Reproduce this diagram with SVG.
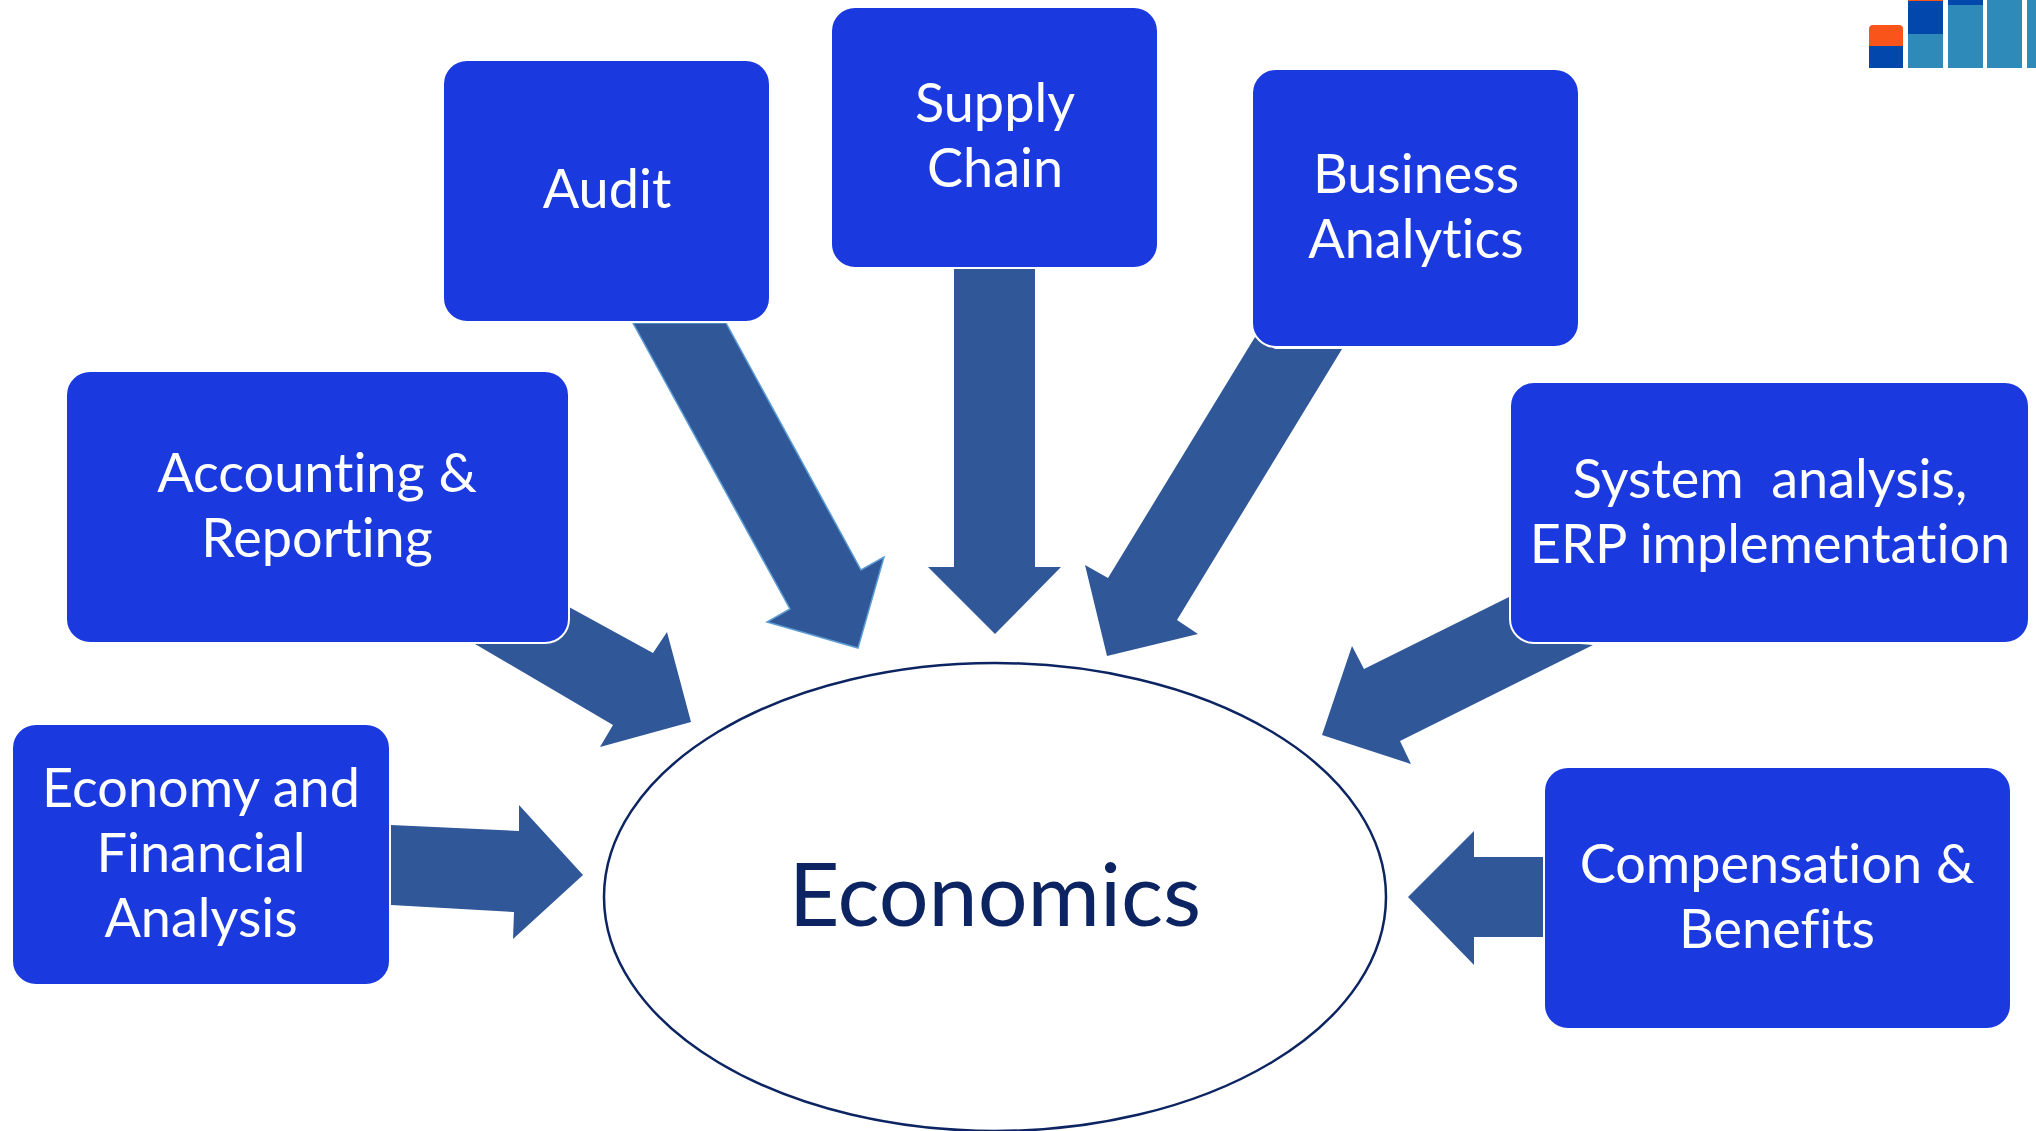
<svg xmlns="http://www.w3.org/2000/svg" width="2036" height="1131" viewBox="0 0 2036 1131">
<style>
.n{fill:#1a3adf;stroke:#fff;stroke-width:2}
.t{fill:#fff;font-family:"Lato","Liberation Sans",sans-serif;font-size:54px;text-anchor:middle;font-variant-ligatures:none}
.a{fill:#305797}
.o{fill:#f9541a}.b{fill:#0247ab}.c{fill:#2e8ab8}
</style>
<rect width="2036" height="1131" fill="#fff"/>
<g id="logo">
<path class="o" d="M1869 46V29q0-4 4-4h26q4 0 4 4V46z"/><rect class="b" x="1869" y="46" width="34" height="22"/>
<rect class="o" x="1908" y="0" width="35" height="1"/><rect class="b" x="1908" y="1" width="35" height="33"/><rect class="c" x="1908" y="34" width="35" height="34"/>
<rect class="b" x="1948" y="0" width="35" height="5"/><rect class="c" x="1948" y="5" width="35" height="63"/>
<rect class="c" x="1987" y="0" width="35" height="68"/>
<rect class="c" x="2027" y="0" width="9" height="68"/>
</g>
<g id="connectors">
<polygon class="a" points="391,825 519,831 519,805 583,875 513,939 514,912 391,905"/>
<polygon class="a" points="569,607 653,653 667,632 691,722 600,747 613,725 475,644"/>
<polygon class="a" points="633,323 726,323 861,570 884,557 858,648 767,622 790,609" stroke="#5b9bd5" stroke-width="1.5"/>
<polygon class="a" points="954,269 1035,269 1035,567 1061,567 995,634 928,567 954,567"/>
<polygon class="a" points="1255,337 1275,349 1342,349 1177,620 1198,634 1107,656 1085,565 1108,578"/>
<polygon class="a" points="1509,597 1364,669 1352,646 1322,735 1411,764 1400,741 1593,645 1530,640"/>
<polygon class="a" points="1543,857 1474,857 1474,831 1408,897 1474,965 1474,937 1543,937"/>
</g>
<g id="economics"><ellipse cx="995" cy="897" rx="391" ry="234" fill="#fff" stroke="#0c2461" stroke-width="2.5"/>
<text x="995" y="926" font-family="Lato,'Liberation Sans',sans-serif" font-size="88" text-anchor="middle" fill="#0c2461" style="font-variant-ligatures:none">Economics</text></g>
<g id="audit"><rect class="n" x="443" y="60" width="327" height="262" rx="24"/><text class="t" x="607" y="208">Audit</text></g>
<g id="supply"><rect class="n" x="831" y="7" width="327" height="261" rx="24"/><text class="t" x="995" y="122">Supply</text><text class="t" x="995" y="187">Chain</text></g>
<g id="business"><rect class="n" x="1252" y="69" width="327" height="278" rx="24"/><text class="t" x="1416" y="193">Business</text><text class="t" x="1416" y="258">Analytics</text></g>
<g id="accounting"><rect class="n" x="66" y="371" width="503" height="272" rx="24"/><text class="t" x="317" y="492">Accounting &amp;</text><text class="t" x="317" y="557">Reporting</text></g>
<g id="system"><rect class="n" x="1510" y="382" width="519" height="261" rx="24"/><text class="t" x="1770" y="498" xml:space="preserve">System  analysis,</text><text class="t" x="1770" y="563">ERP implementation</text></g>
<g id="economy"><rect class="n" x="12" y="724" width="378" height="261" rx="24"/><text class="t" x="201" y="807">Economy and</text><text class="t" x="201" y="872">Financial</text><text class="t" x="201" y="937">Analysis</text></g>
<g id="compensation"><rect class="n" x="1544" y="767" width="467" height="262" rx="24"/><text class="t" x="1777" y="883">Compensation &amp;</text><text class="t" x="1777" y="948">Benefits</text></g>
</svg>
